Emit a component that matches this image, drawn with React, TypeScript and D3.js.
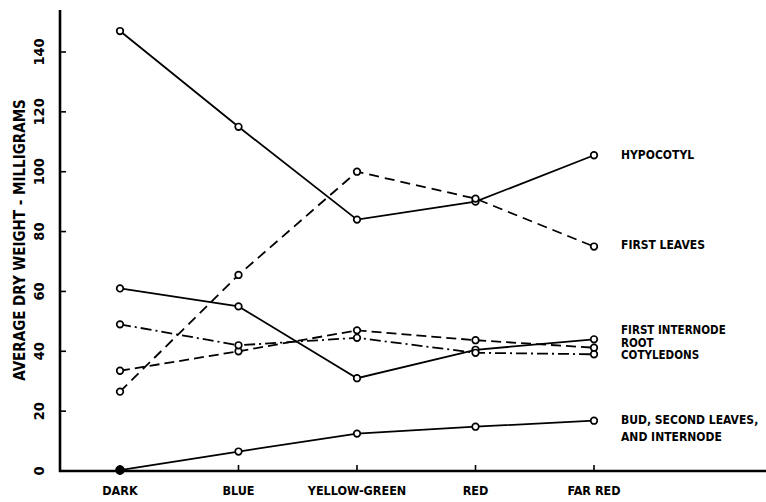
import React from 'react';
import * as d3 from 'd3';

// categories along the bottom
const categories = ['DARK', 'BLUE', 'YELLOW-GREEN', 'RED', 'FAR RED'];
const yTicks = [0, 20, 40, 60, 80, 100, 120, 140];

// average dry weight (mg) per treatment
const hypocotyl = [147, 115, 84, 90, 105.5];
const firstLeaves = [26.5, 65.5, 100, 91, 75];
const firstInternode = [61, 55, 31, 40.5, 44];
const root = [33.5, 40, 47, 43.7, 41.2];
const cotyledons = [49, 42, 44.5, 39.5, 39];
const bud = [0.3, 6.5, 12.5, 14.8, 16.8];

const series = [
  { name: 'hypocotyl', values: hypocotyl, dash: null },
  { name: 'firstLeaves', values: firstLeaves, dash: '10,6' },
  { name: 'firstInternode', values: firstInternode, dash: null },
  { name: 'root', values: root, dash: '10,5' },
  { name: 'cotyledons', values: cotyledons, dash: '11,4,2,4' },
  { name: 'bud', values: bud, dash: null },
];

// series labels on the right
const labels = [
  { lines: ['HYPOCOTYL'], y: 159 },
  { lines: ['FIRST LEAVES'], y: 249 },
  { lines: ['FIRST INTERNODE', 'ROOT', 'COTYLEDONS'], y: 334 },
  { lines: ['BUD, SECOND LEAVES,', 'AND INTERNODE'], y: 424 },
];

const W = 766;
const H = 502;
const font = '"DejaVu Sans Condensed", "DejaVu Sans", sans-serif';

export default function App() {
  const x = d3.scalePoint<string>().domain(categories).range([120, 594]);
  const y = d3.scaleLinear().domain([0, 140]).range([471, 52]);
  const x0 = 60;
  const y0 = y(0);

  const line = d3
    .line<number>()
    .x((_, i) => x(categories[i]) as number)
    .y(d => y(d));

  return (
    <svg
      width={W}
      height={H}
      style={{ position: 'absolute', left: 0, top: 0, background: '#fff' }}
      fontFamily={font}
    >
      <rect width={W} height={H} fill="#fff" />

      {/* axes */}
      <line x1={x0} x2={x0} y1={10} y2={y0 + 1} stroke="#000" strokeWidth={2.6} />
      <line x1={x0 - 1} x2={W} y1={y0} y2={y0} stroke="#000" strokeWidth={2.6} />
      {yTicks.map(t => (
        <g key={t}>
          <line x1={x0} x2={x0 + 6} y1={y(t)} y2={y(t)} stroke="#000" strokeWidth={1.6} />
          <text
            transform={`translate(44,${y(t)}) rotate(-90)`}
            textAnchor="middle"
            fontSize={14.5}
            fontWeight="bold"
          >
            {t}
          </text>
        </g>
      ))}
      {categories.map(c => (
        <g key={c}>
          <line x1={x(c)} x2={x(c)} y1={y0} y2={y0 - 6} stroke="#000" strokeWidth={1.6} />
          <text x={x(c)} y={y0 + 24} textAnchor="middle" fontSize={12.5} fontWeight="bold">
            {c}
          </text>
        </g>
      ))}
      <text
        transform={`translate(25,${240}) rotate(-90)`}
        textAnchor="middle"
        fontSize={15}
        fontWeight="bold"
      >
        AVERAGE DRY WEIGHT - MILLIGRAMS
      </text>

      {/* series lines */}
      {series.map(s => (
        <path
          key={s.name}
          d={line(s.values) || ''}
          fill="none"
          stroke="#000"
          strokeWidth={1.8}
          strokeDasharray={s.dash || undefined}
        />
      ))}
      {series.map(s =>
        s.values.map((v, i) => {
          const filled = s.name === 'bud' && i === 0;
          return (
            <circle
              key={`${s.name}-${i}`}
              cx={x(categories[i])}
              cy={y(v)}
              r={filled ? 4 : 3.3}
              fill={filled ? '#000' : '#fff'}
              stroke="#000"
              strokeWidth={1.7}
            />
          );
        }),
      )}

      {labels.map(l => (
        <text
          key={l.lines[0]}
          x={621}
          y={l.y}
          fontSize={l.lines.length > 2 ? 11.5 : 12}
          fontWeight="bold"
        >
          {l.lines.map((t, i) => (
            <tspan key={t} x={621} dy={i === 0 ? 0 : l.lines.length > 2 ? 12.5 : 17}>
              {t}
            </tspan>
          ))}
        </text>
      ))}
    </svg>
  );
}
